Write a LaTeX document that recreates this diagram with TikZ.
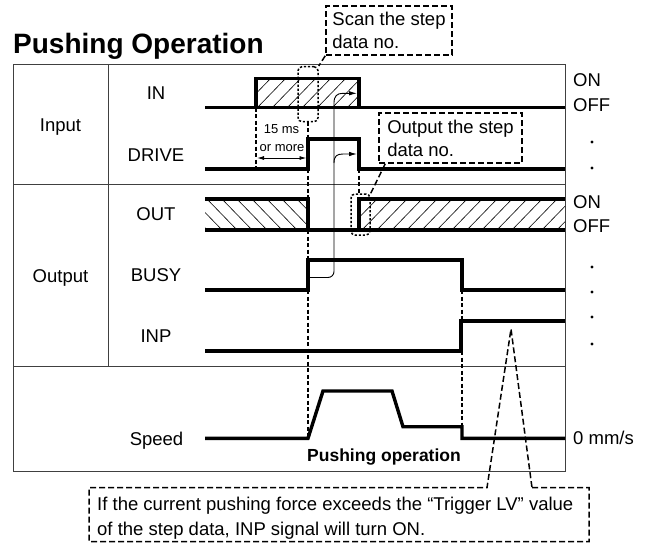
\documentclass[tikz,border=0pt]{standalone}
\usepackage{fontspec}
\setmainfont{Liberation Sans}
\usetikzlibrary{arrows.meta, positioning}

\tikzset{
    sig/.style={line width=3.4pt, line join=miter},
    hatchln/.style={line width=0.6pt},
    frameln/.style={line width=0.9pt, draw=black!75},
    guide/.style={line width=1.2pt, dash pattern=on 4pt off 2.5pt},
    callout/.style={line width=1.5pt, dash pattern=on 6pt off 3pt},
    marker/.style={draw, line width=1.5pt, dash pattern=on 2.2pt off 1.8pt, rounded corners=4pt, inner sep=0pt},
    pointer/.style={line width=0.9pt, -{Latex[length=8pt,width=4.5pt]}},
    lbl/.style={font=\fontsize{18.5}{23}\selectfont, inner sep=0pt, anchor=mid},
    side/.style={font=\fontsize{18.5}{23}\selectfont, inner sep=0pt, anchor=mid west},
    callbox/.style={draw, callout, align=left, inner sep=0pt, font=\fontsize{18.5}{23}\selectfont},
    dot/.style={circle, fill, inner sep=0pt, minimum size=3.2pt}
}

\begin{document}
\begin{tikzpicture}[x=1pt, y=-1pt]
    \useasboundingbox (0,0) rectangle (651,544);

    % Title
    \node[font=\fontsize{28}{30}\selectfont\bfseries, inner sep=0pt, anchor=base west] (title) at (13,53) {Pushing Operation};

    % Frame
    \draw[frameln] (13,64.5) rectangle (565,471.7);
    \draw[frameln] (13,184.5) -- (565,184.5);
    \draw[frameln] (13,366) -- (565,366);
    \draw[frameln] (108,64.5) -- (108,366);

    % Row labels
    \node[lbl] (input) at (60.5,128.5) {Input};
    \node[lbl] (output) at (60.5,279.5) {Output};
    \node[lbl] (in) at (156,97) {IN};
    \node[lbl] (drive) at (156,158.5) {DRIVE};
    \node[lbl] (out) at (156,217.5) {OUT};
    \node[lbl] (busy) at (156,278.5) {BUSY};
    \node[lbl] (inp) at (156,339.5) {INP};
    \node[lbl] (speed) at (156.5,442.5) {Speed};

    % Levels
    \node[side] (inon) at (573,84) {ON};
    \node[side] (inoff) at (573,108.5) {OFF};
    \node[dot] (d1) at (592,142) {};
    \node[dot] (d2) at (592,168) {};
    \node[side] (outon) at (573,206) {ON};
    \node[side] (outoff) at (573,230) {OFF};
    \node[dot] (d3) at (592,267) {};
    \node[dot] (d4) at (592,292) {};
    \node[dot] (d5) at (592,317) {};
    \node[dot] (d6) at (592,344) {};
    \node[side] (zero) at (573,441.5) {0 mm/s};

    % Hatching
    \begin{scope}
        \clip (256,78.5) rectangle (359,107.7);
        \foreach \k in {225,240,...,360} \draw[hatchln] (\k,110) -- ++(33,-34);
    \end{scope}
    \begin{scope}
        \clip (205,199) rectangle (308,230);
        \foreach \k in {175,190,...,310} \draw[hatchln] (\k,197) -- ++(34,35);
    \end{scope}
    \begin{scope}
        \clip (359,199) rectangle (565,230);
        \foreach \k in {330,345,...,570} \draw[hatchln] (\k,232) -- ++(34,-35);
    \end{scope}

    % Signals
    \draw[sig] (205,107.7) -- (565,107.7);
    \draw[sig] (256,107.7) -- (256,78.5) -- (359,78.5) -- (359,107.7);
    \draw[sig] (205,169) -- (308,169) -- (308,139) -- (359,139) -- (359,169) -- (565,169);
    \draw[sig] (205,230) -- (565,230);
    \draw[sig] (205,199) -- (308,199) -- (308,230);
    \draw[sig] (359,230) -- (359,199) -- (565,199);
    \draw[sig] (205,290) -- (308,290) -- (308,260) -- (462,260) -- (462,290) -- (565,290);
    \draw[sig] (205,351) -- (461,351) -- (461,321) -- (565,321);
    \draw[sig] (205,438.3) -- (308,438.3) -- (323,391) -- (392,391) -- (403,426.7) -- (462,426.7) -- (462,438.3) -- (565,438.3);

    % Timing guides
    \draw[guide] (256,107.7) -- (256,169);
    \draw[guide] (308,121.7) -- (308,139);
    \draw[guide] (308,169) -- (308,199);
    \draw[guide] (308,230) -- (308,260);
    \draw[guide] (308,290) -- (308,438.3);
    \draw[guide] (359,169) -- (359,194);
    \draw[guide] (462,290) -- (462,321);
    \draw[guide] (462,351) -- (462,426.7);

    % 15 ms
    \node[font=\fontsize{13}{15}\selectfont, inner sep=0pt] (ms) at (281.5,129) {15 ms};
    \node[font=\fontsize{13}{15}\selectfont, inner sep=0pt] (more) at (282,148) {or more};
    \draw[line width=0.9pt, {Latex[length=7pt,width=4pt]}-{Latex[length=7pt,width=4pt]}] (257,158) -- (306.5,158);

    % Scan and output pointers
    \draw[pointer] (334,103) .. controls (334,96) and (337,93.3) .. (343,93.3) -- (357,93.3);
    \draw[pointer] (334,163) .. controls (334,156) and (337,154) .. (343,154) -- (357,154);
    \draw[line width=0.9pt, rounded corners=6pt] (334,103) |- (309.7,277.5);

    % Markers
    \node[marker, minimum width=20pt, minimum height=55pt] (scanmark) at (308,94.2) {};
    \node[marker, minimum width=19pt, minimum height=41pt] (outmark) at (360.5,214.5) {};

    % Callouts
    \node[callbox, minimum width=126pt, minimum height=49pt] (scanbox) at (389,30.5) {Scan the step\\data no.};
    \node[callbox, minimum width=143pt, minimum height=50pt] (outbox) at (450.5,138) {Output the step\\data no.};
    \draw[callout] (scanbox.south west) -- (scanmark.north east);
    \draw[callout] ([xshift=7pt]outbox.south west) -- (outmark.north east);

    \node[font=\fontsize{17.5}{20}\selectfont\bfseries, inner sep=0pt] (pushop) at (384,457) {Pushing operation};

    \coordinate (peak) at (511,329);
    \coordinate (notenw) at (89,487.7);
    \coordinate (notese) at (589,541.7);
    \node[align=left, inner sep=0pt, anchor=north west, font=\fontsize{18.5}{25}\selectfont] (note) at (97,496.5) {If the current pushing force exceeds the “Trigger LV” value\\of the step data, INP signal will turn ON.};
    \draw[callout] (532,487.7) -- (notenw -| notese) -- (notese) -- (notese -| notenw) -- (notenw) -- (487,487.7) -- (peak) -- cycle;
\end{tikzpicture}
\end{document}
